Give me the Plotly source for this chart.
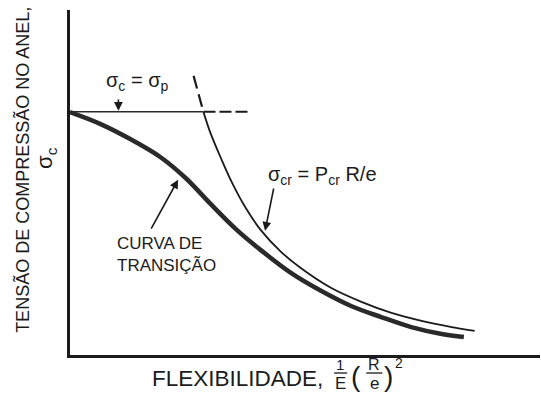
import plotly.graph_objects as go

# Schematic ring-buckling diagram: compressive stress in the ring vs. flexibility
# (arbitrary units, no tick values)

INK = "#1b1b1b"
FONT = "Liberation Sans, Arial, sans-serif"

# Proportional-limit stress level (sigma_c = sigma_p)
sigma_p = 7.05
plateau_x = [0.0, 2.84]          # solid part of the sigma_p line
plateau_dash_x = [2.84, 3.85]    # dashed continuation

# Elastic (Euler-type) critical stress curve sigma_cr = P_cr R / e
euler_x = [2.84, 2.99, 3.21, 3.46, 3.74, 4.06, 4.49, 4.91, 5.56, 6.20, 6.84, 7.48, 8.12, 8.61]
euler_y = [7.04, 6.43, 5.71, 4.96, 4.26, 3.62, 2.99, 2.52, 1.94, 1.54, 1.22, 0.99, 0.81, 0.70]
# portion above sigma_p (not valid, drawn dashed)
euler_dash_x = [2.63, 2.84]
euler_dash_y = [8.09, 7.04]

# Transition curve
trans_x = [0.00, 0.64, 1.28, 1.92, 2.46, 2.99, 3.53, 4.06, 4.70, 5.34, 5.98, 6.62, 7.26, 7.91, 8.38]
trans_y = [7.04, 6.70, 6.26, 5.74, 5.13, 4.38, 3.65, 3.04, 2.38, 1.86, 1.42, 1.10, 0.81, 0.61, 0.52]

fig = go.Figure()

fig.add_trace(go.Scatter(x=plateau_x, y=[sigma_p, sigma_p], mode="lines",
                         line=dict(color="#2a2a2a", width=1.4)))
fig.add_trace(go.Scatter(x=plateau_dash_x, y=[sigma_p, sigma_p], mode="lines",
                         line=dict(color=INK, width=2, dash="12px,4px")))
fig.add_trace(go.Scatter(x=euler_dash_x, y=euler_dash_y, mode="lines",
                         line=dict(color=INK, width=2.2, dash="13px,6px")))
fig.add_trace(go.Scatter(x=euler_x, y=euler_y, mode="lines",
                         line=dict(color=INK, width=1.8, shape="spline", smoothing=1.0)))
fig.add_trace(go.Scatter(x=trans_x, y=trans_y, mode="lines",
                         line=dict(color="#2a2a2a", width=4.5, shape="spline", smoothing=1.0)))

ann = []

# arrows pointing at the lines
def arrow(head, tail):
    ann.append(dict(x=head[0], y=head[1], ax=tail[0], ay=tail[1],
                    xref="x", yref="y", axref="x", ayref="y", text="",
                    showarrow=True, arrowhead=2, arrowsize=1.1, arrowwidth=1.6,
                    arrowcolor=INK, standoff=0, startstandoff=0))

arrow((1.03, 7.08), (1.03, 7.45))
arrow((4.15, 3.60), (4.34, 4.87))
arrow((2.30, 5.08), (1.71, 3.62))

# labels inside the plot
ann.append(dict(x=1.43, y=7.93, xref="x", yref="y", showarrow=False,
                xanchor="center", yanchor="middle",
                text="σ<sub>c</sub> = σ<sub>p</sub>",
                font=dict(family=FONT, size=20, color=INK)))
ann.append(dict(x=4.17, y=5.19, xref="x", yref="y", showarrow=False,
                xanchor="left", yanchor="middle",
                text="σ<sub>cr</sub> = P<sub>cr</sub> R/e",
                font=dict(family=FONT, size=20, color=INK)))
ann.append(dict(x=0.96, y=2.90, xref="x", yref="y", showarrow=False,
                xanchor="left", yanchor="middle",
                align="left", text="CURVA DE<br>TRANSIÇÃO",
                font=dict(family=FONT, size=17, color=INK)))

# y-axis title
ann.append(dict(x=(22 - 70) / 468.0, y=0.536, xref="paper", yref="paper", showarrow=False,
                xanchor="center", yanchor="middle",
                textangle=-90, text="TENSÃO DE COMPRESSÃO NO ANEL,",
                font=dict(family=FONT, size=18, color=INK)))
ann.append(dict(x=(46 - 70) / 468.0, y=0.571, xref="paper", yref="paper", showarrow=False,
                xanchor="center", yanchor="middle",
                textangle=-90, text="σ<sub>c</sub>",
                font=dict(family=FONT, size=22, color=INK)))

# x-axis title: FLEXIBILIDADE, (1/E)(R/e)^2
def px(xp):
    return (xp - 70) / 468.0

def py(yp):
    return (355 - yp) / 345.0

def txt(xp, yp, s, size, anchor="center"):
    ann.append(dict(x=px(xp), y=py(yp), xref="paper", yref="paper", showarrow=False,
                    xanchor=anchor, yanchor="middle", text=s,
                    font=dict(family=FONT, size=size, color=INK)))

txt(150, 378, "FLEXIBILIDADE,", 22.5, "left")
txt(339, 365, "1", 15)
txt(339, 383, "E", 17)
txt(355, 376, "(", 28)
txt(373, 365, "R", 16)
txt(373, 383, "e", 17)
txt(387, 376, ")", 28)
txt(398, 363, "2", 14)

shapes = [
    dict(type="line", xref="paper", yref="paper", x0=px(333), x1=px(346),
         y0=py(373), y1=py(373), line=dict(color=INK, width=1.3)),
    dict(type="line", xref="paper", yref="paper", x0=px(365), x1=px(381),
         y0=py(373), y1=py(373), line=dict(color=INK, width=1.3)),
]

fig.update_layout(
    width=541, height=406,
    margin=dict(l=70, r=1, t=10, b=51),
    paper_bgcolor="white", plot_bgcolor="white",
    showlegend=False,
    annotations=ann, shapes=shapes,
    xaxis=dict(range=[0, 10], showgrid=False, zeroline=False, showticklabels=False,
               ticks="", showline=True, linecolor=INK, linewidth=2.5),
    yaxis=dict(range=[0, 10], showgrid=False, zeroline=False, showticklabels=False,
               ticks="", showline=True, linecolor=INK, linewidth=2.5),
)

fig.write_html("out.html")
